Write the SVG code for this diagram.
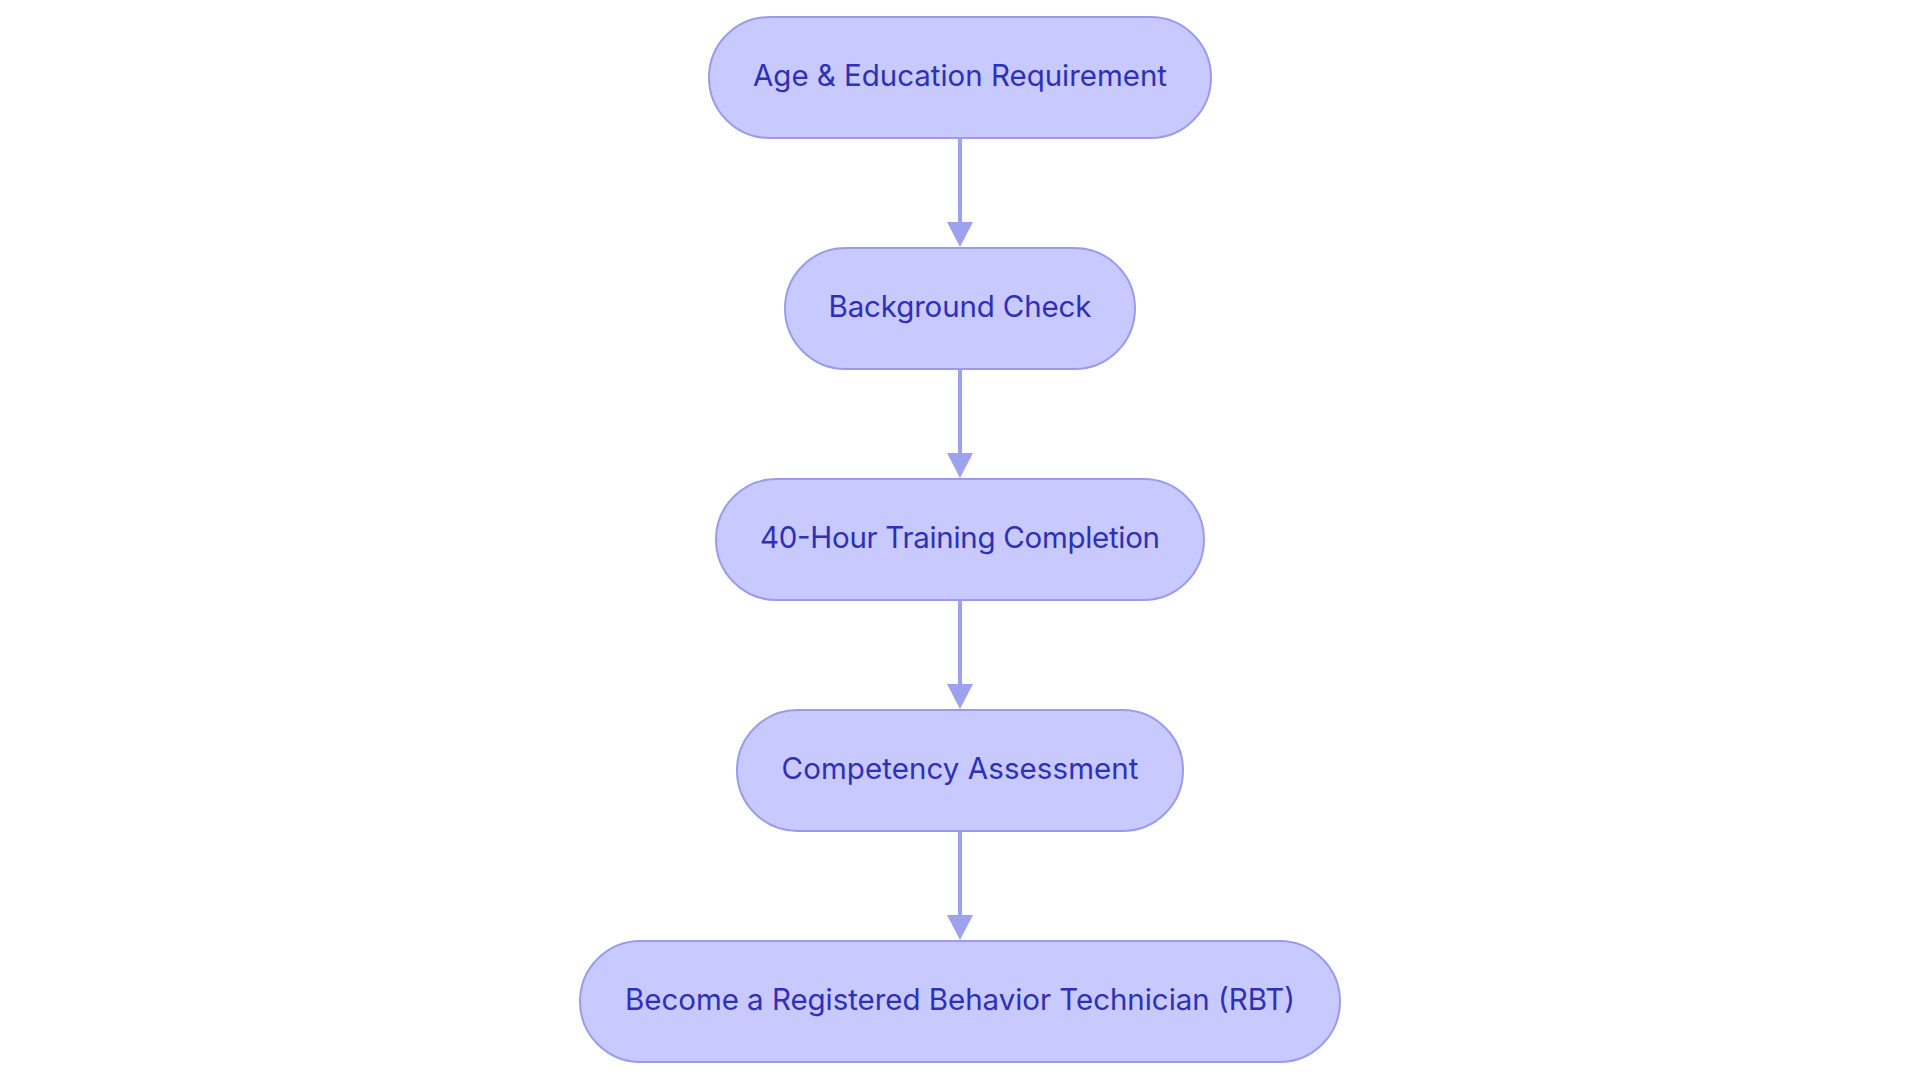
<svg xmlns="http://www.w3.org/2000/svg" width="1920" height="1083" viewBox="0 0 1920 1083">
<style>
.node rect{fill:#c7c9ff;stroke:#9a9ceb;stroke-width:2}
.node text{font-family:Inter,"Liberation Sans",sans-serif;font-size:29.5px;fill:#2e30b5;text-anchor:middle}
.edge line{stroke:#9da1ee;stroke-width:4}
.edge polygon{fill:#9da1ee}
</style>
<rect width="1920" height="1083" fill="#ffffff"/>
<g id="connectors" class="edge">
<line x1="960" y1="138" x2="960" y2="224"/><polygon points="947,222 973,222 960,247"/>
<line x1="960" y1="369" x2="960" y2="455"/><polygon points="947,453 973,453 960,478"/>
<line x1="960" y1="600" x2="960" y2="686"/><polygon points="947,684 973,684 960,709"/>
<line x1="960" y1="831" x2="960" y2="917"/><polygon points="947,915 973,915 960,940"/>
</g>
<g id="n1" class="node"><rect x="709" y="17" width="502" height="121" rx="60.5"/><text x="960" y="86" textLength="414">Age &amp; Education Requirement</text></g>
<g id="n2" class="node"><rect x="785" y="248" width="350" height="121" rx="60.5"/><text x="960" y="317" textLength="263">Background Check</text></g>
<g id="n3" class="node"><rect x="716" y="479" width="488" height="121" rx="60.5"/><text x="960" y="548" textLength="400">40-Hour Training Completion</text></g>
<g id="n4" class="node"><rect x="737" y="710" width="446" height="121" rx="60.5"/><text x="960" y="779" textLength="357">Competency Assessment</text></g>
<g id="n5" class="node"><rect x="580" y="941" width="760" height="121" rx="60.5"/><text x="960" y="1010" textLength="670">Become a Registered Behavior Technician (RBT)</text></g>
</svg>
